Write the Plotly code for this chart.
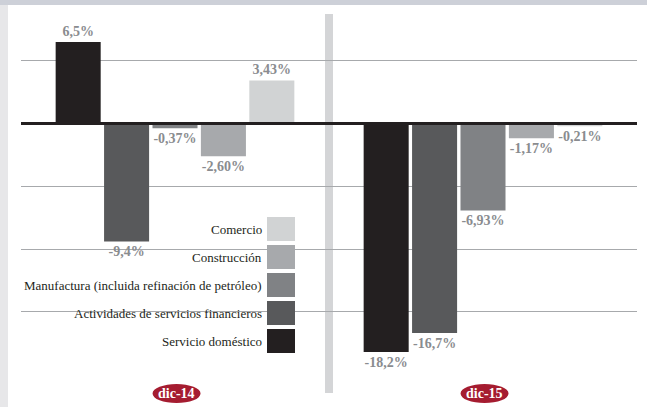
import plotly.graph_objects as go

# Periods (x categories)
periods = ["dic-14", "dic-15"]

# Sectors, in drawing order (left to right inside each group)
sectors = [
    "Servicio doméstico",
    "Actividades de servicios financieros",
    "Manufactura (incluida refinación de petróleo)",
    "Construcción",
    "Comercio",
]
colors = ["#231f20", "#58595b", "#808285", "#a7a9ac", "#d1d3d4"]

# Annual variation (%) per sector, one value per period
servicio_domestico = [6.5, -18.2]
servicios_financieros = [-9.4, -16.7]
manufactura = [-0.37, -6.93]
construccion = [-2.60, -1.17]
comercio = [3.43, -0.21]
series = [servicio_domestico, servicios_financieros, manufactura, construccion, comercio]
decimals = [1, 1, 2, 2, 2]

W, H = 647, 407
L, R, T, B = 21, 637, 14, 393


def px(x):
    return (x - L) / (R - L)


def py(y):
    return (B - y) / (B - T)


def fmt(v, d):
    return f"{v:.{d}f}".replace(".", ",") + "%"


fig = go.Figure()
for name, vals, col, d in zip(sectors, series, colors, decimals):
    fig.add_trace(go.Bar(
        x=periods, y=vals, name=name,
        marker=dict(color=col, line=dict(width=0)),
        text=[fmt(v, d) for v in vals],
        textposition="outside",
        constraintext="none",
        cliponaxis=False,
        textfont=dict(family="Liberation Serif", size=14, color="#8a8c8f", weight="bold"),
        showlegend=False,
        hoverinfo="skip",
    ))

shapes = [
    # top band and left frame strip
    dict(type="rect", xref="paper", yref="paper", x0=px(0), x1=px(W), y0=py(5), y1=py(0),
         fillcolor="#cdd0d8", line=dict(width=0), layer="above"),
    dict(type="rect", xref="paper", yref="paper", x0=px(0), x1=px(8), y0=py(H), y1=py(5),
         fillcolor="#e7e7e9", line=dict(width=0), layer="above"),
    # separator between periods
    dict(type="rect", xref="x", yref="paper", x0=0.5 - 4 / 308, x1=0.5 + 4 / 308, y0=0, y1=1,
         fillcolor="#d4d5d7", line=dict(width=0), layer="between"),
    # baseline
    dict(type="line", xref="paper", yref="y", x0=0, x1=1, y0=0, y1=0,
         line=dict(color="#231f20", width=3), layer="above"),
]

annotations = []

# legend: label text on the left, swatch on the right, top entry = last sector
for k, i in enumerate(reversed(range(len(sectors)))):
    cy = 229 + 28 * k
    shapes.append(dict(type="rect", xref="paper", yref="paper",
                       x0=px(267), x1=px(295), y0=py(cy + 12), y1=py(cy - 12),
                       fillcolor=colors[i], line=dict(width=0), layer="above"))
    annotations.append(dict(xref="paper", yref="paper", x=px(264), y=py(cy),
                            xanchor="right", yanchor="middle", showarrow=False,
                            text=sectors[i],
                            font=dict(family="Liberation Serif", size=13, color="#231f20")))

# period badges
for i, p in enumerate(periods):
    shapes.append(dict(type="circle", xref="x", yref="paper",
                       x0=i - 24 / 308 + 0.005, x1=i + 24 / 308 + 0.005, y0=py(403), y1=py(384),
                       fillcolor="#a51c30", line=dict(width=0), layer="above"))
    annotations.append(dict(xref="x", yref="paper", x=i + 0.005, y=py(393.5),
                            xanchor="center", yanchor="middle", showarrow=False, text=p,
                            font=dict(family="Liberation Serif", size=14, color="white", weight="bold")))

fig.update_layout(
    width=W, height=H,
    margin=dict(l=L, r=W - R, t=T, b=H - B, pad=0),
    paper_bgcolor="white", plot_bgcolor="white",
    barmode="group", bargap=0.214, bargroupgap=0.07,
    shapes=shapes, annotations=annotations,
    xaxis=dict(range=[-0.5, 1.5], showticklabels=False, showgrid=False, zeroline=False,
               ticks="", showline=False, fixedrange=True),
    yaxis=dict(range=[-(B - 123.5) / 12.55, (123.5 - T) / 12.55],
               tickvals=[-15, -10, -5, 5], showticklabels=False, ticks="",
               showgrid=True, gridcolor="#a7a9ac", gridwidth=1,
               zeroline=False, showline=False, fixedrange=True),
    showlegend=False,
)

fig.write_html("out.html", config={"displayModeBar": False})
